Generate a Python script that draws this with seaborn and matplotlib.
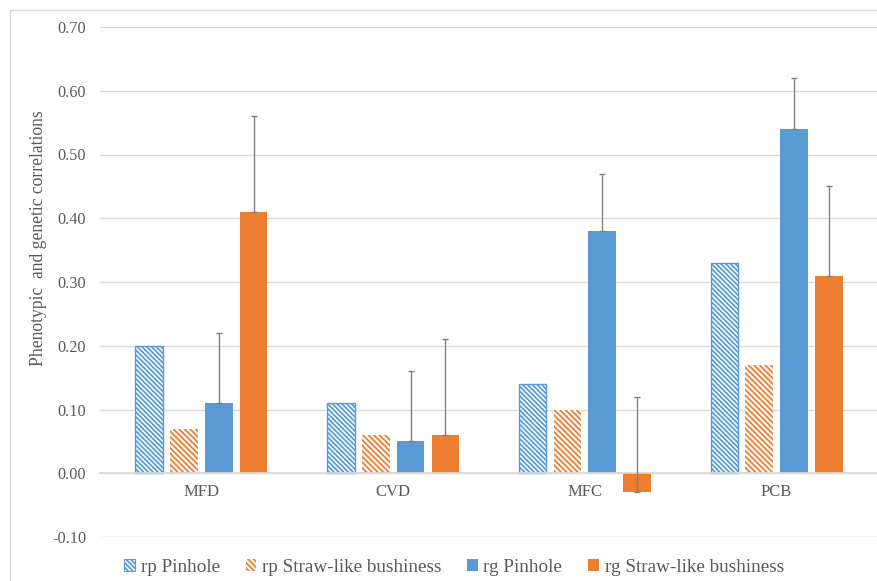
import numpy as np
import pandas as pd
import matplotlib.pyplot as plt
import seaborn as sns
from matplotlib.patches import Patch, Rectangle

# valores
traits = ['MFD', 'CVD', 'MFC', 'PCB']
series = ['rp Pinhole', 'rp Straw-like bushiness', 'rg Pinhole', 'rg Straw-like bushiness']
rp_pinhole = [0.20, 0.11, 0.14, 0.33]
rp_straw = [0.07, 0.06, 0.10, 0.17]
rg_pinhole = [0.11, 0.05, 0.38, 0.54]
rg_straw = [0.41, 0.06, -0.03, 0.31]
rg_pinhole_err = [0.11, 0.11, 0.09, 0.08]
rg_straw_err = [0.15, 0.15, 0.15, 0.14]
y_ticks = [-0.10, 0.00, 0.10, 0.20, 0.30, 0.40, 0.50, 0.60, 0.70]

blue = '#5B9BD5'
orange = '#ED7D31'
text_col = '#595959'
grid_col = '#d9d9d9'
hatch_blue = '\\' * 7
hatch_orange = '\\' * 6

sns.set_theme(style='white')
plt.rcParams['font.family'] = ['Liberation Serif', 'DejaVu Serif']
plt.rcParams['hatch.linewidth'] = 1.3

df = pd.DataFrame({
    'trait': traits * 4,
    'series': np.repeat(series, 4),
    'value': rp_pinhole + rp_straw + rg_pinhole + rg_straw,
})

fig = plt.figure(figsize=(8.78, 5.81), dpi=100)
ax = fig.add_axes([100 / 878, 1 - 537 / 581, 778 / 878, 510 / 581])

sns.barplot(data=df, x='trait', y='value', hue='series', order=traits, hue_order=series,
            palette=[blue, orange, blue, orange], width=0.726, gap=0.207,
            errorbar=None, legend=False, ax=ax)

hatches = [hatch_blue, hatch_orange, None, None]
colors = [blue, orange, blue, orange]
for i, cont in enumerate(ax.containers):
    for p in cont:
        if hatches[i]:
            p.set_facecolor('white')
            p.set_edgecolor(colors[i])
            p.set_hatch(hatches[i])
            p.set_linewidth(1.0 if i == 0 else 0)
        else:
            p.set_facecolor(colors[i])
            p.set_edgecolor(colors[i])
            p.set_linewidth(0)

# barras de error solo hacia arriba
for cont, vals, errs in [(ax.containers[2], rg_pinhole, rg_pinhole_err),
                         (ax.containers[3], rg_straw, rg_straw_err)]:
    xs = [p.get_x() + p.get_width() / 2 for p in cont]
    ax.errorbar(xs, vals, yerr=[np.zeros(len(errs)), errs], fmt='none',
                ecolor='#7f7f7f', elinewidth=1, capsize=2.5, capthick=1, zorder=3)

ax.set_ylim(-0.1, 0.7)
ax.set_yticks(y_ticks)
ax.set_yticklabels([f'{t:.2f}' for t in y_ticks])
ax.yaxis.grid(True, color=grid_col, linewidth=1)
ax.set_axisbelow(True)

for s in ['top', 'right', 'left']:
    ax.spines[s].set_visible(False)
ax.spines['bottom'].set_position(('data', 0))
ax.spines['bottom'].set_color(grid_col)

ax.tick_params(axis='both', length=0, colors=text_col)
ax.tick_params(axis='y', pad=10, labelsize=11.7)
ax.tick_params(axis='x', pad=8, labelsize=12)
ax.set_xlabel('')
ax.set_ylabel('Phenotypic  and genetic correlations', color=text_col, fontsize=12.7)
ax.yaxis.set_label_coords(-0.068, 0.587)

handles = [Patch(facecolor='white', edgecolor=blue, hatch=hatch_blue, linewidth=0.8),
           Patch(facecolor='white', edgecolor=orange, hatch=hatch_orange, linewidth=0),
           Patch(facecolor=blue, edgecolor=blue, linewidth=0),
           Patch(facecolor=orange, edgecolor=orange, linewidth=0)]
leg = fig.legend(handles, series, loc='center', bbox_to_anchor=(454 / 878, 1 - 567 / 581),
                 ncol=4, frameon=False, fontsize=13.8, handlelength=0.57, handleheight=0.6,
                 handletextpad=0.28, columnspacing=1.35)
for t in leg.get_texts():
    t.set_color(text_col)

# marco gris del area del grafico
fig.patches.append(Rectangle((10 / 878, -0.1), 1.2, 1.1 - 10 / 581, transform=fig.transFigure,
                             fill=False, edgecolor=grid_col, linewidth=1))

fig.savefig('out.png', dpi=100)
